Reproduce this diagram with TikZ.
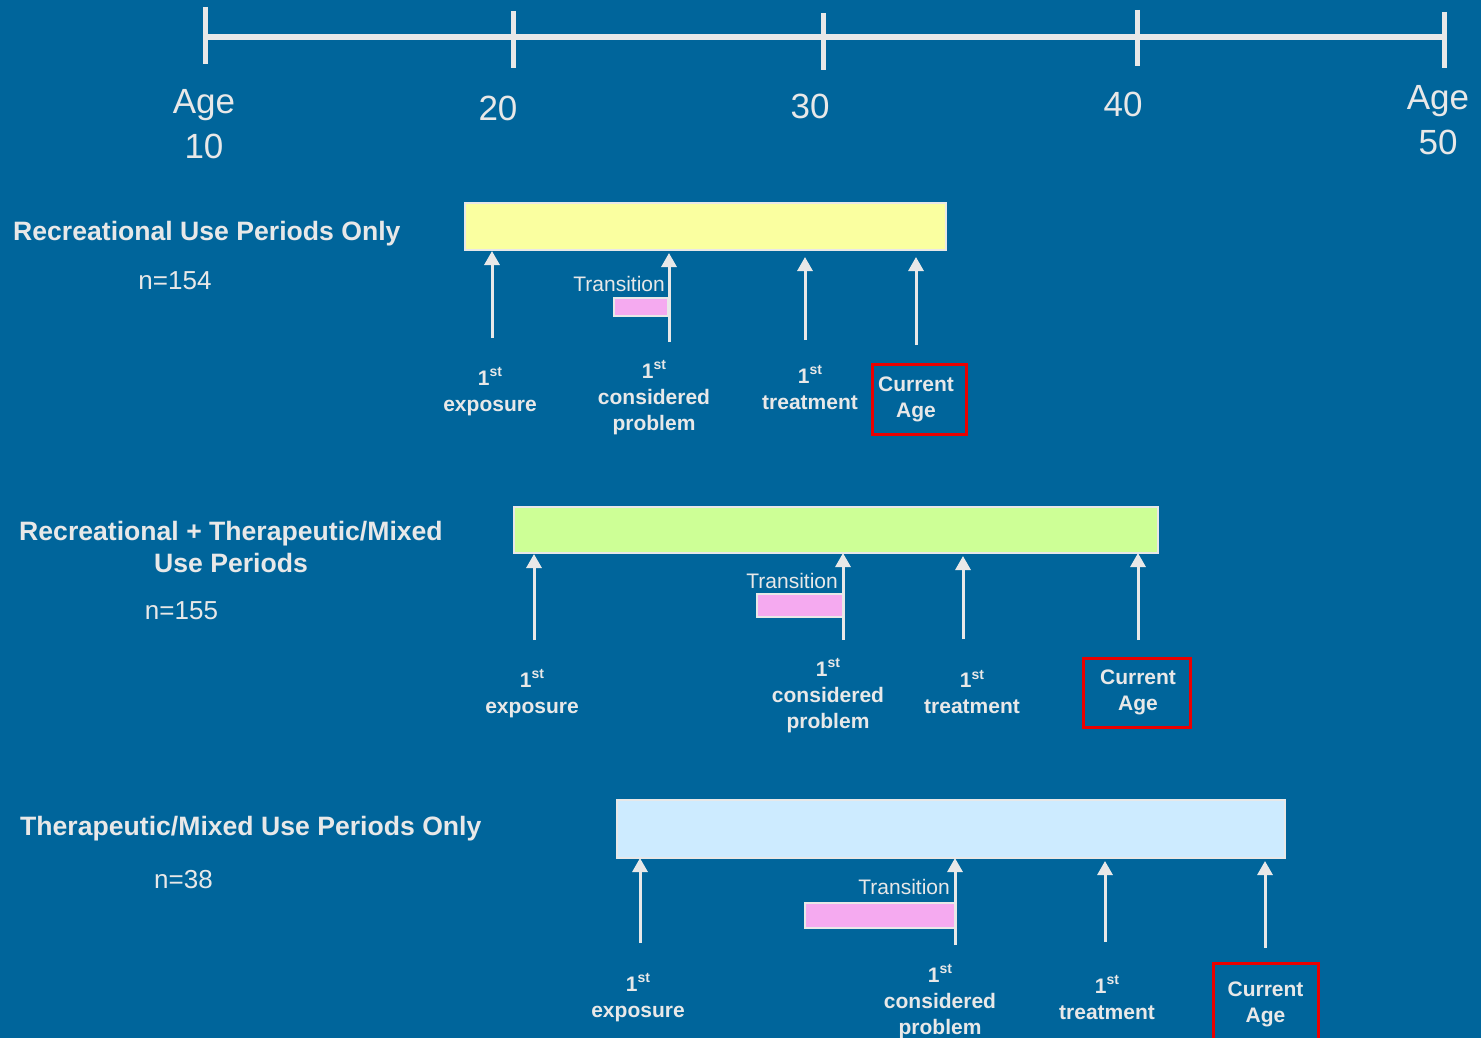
\documentclass[tikz,border=0pt]{standalone}
\usepackage{fontspec}
\setmainfont{Liberation Sans}
\usetikzlibrary{arrows.meta}
\definecolor{bgblue}{RGB}{0,101,155}
\definecolor{ink}{RGB}{232,232,232}
\definecolor{barY}{RGB}{250,255,160}
\definecolor{barG}{RGB}{205,255,150}
\definecolor{barB}{RGB}{205,235,255}
\definecolor{pinkT}{RGB}{245,170,240}
\definecolor{boxred}{RGB}{235,0,0}
% raised "st" for ordinal labels
\newcommand\stsup{\raisebox{0.42em}{\fontsize{14}{14}\selectfont st}}
\begin{document}
\begin{tikzpicture}[x=1pt,y=-1pt,
  axisline/.style={draw=ink, line width=6pt},
  tickmark/.style={draw=ink, line width=5pt},
  agelbl/.style={text=ink, font=\fontsize{35}{45}\selectfont, align=center, inner sep=0pt},
  grouptitle/.style={text=ink, font=\bfseries\fontsize{26.6}{32}\selectfont, align=center, inner sep=0pt},
  count/.style={text=ink, font=\fontsize{26}{30}\selectfont, inner sep=0pt},
  periodbar/.style={draw=ink, line width=1.5pt, inner sep=0pt},
  event/.style={text=ink, font=\bfseries\fontsize{21}{26}\selectfont, align=center, inner sep=0pt},
  nowbox/.style={draw=boxred, line width=3pt, text=ink, font=\bfseries\fontsize{21}{26}\selectfont, align=center, inner sep=0pt},
  marker/.style={draw=ink, line width=3pt, -{Triangle[width=15pt,length=14pt]}},
  translbl/.style={text=ink, font=\fontsize{21}{21}\selectfont, inner sep=0pt, anchor=east},
  transbox/.style={draw=ink, fill=pinkT, line width=1.5pt, inner sep=0pt}
]
\useasboundingbox (0,0) rectangle (1481,1038);
\clip (0,0) rectangle (1481,1038);
\fill[bgblue] (0,0) rectangle (1481,1038);

% age axis
\draw[axisline] (205,37) -- (1444,37);
\draw[tickmark] (205,7) -- (205,64);
\draw[tickmark] (513,11) -- (513,68);
\draw[tickmark] (823,13) -- (823,70);
\draw[tickmark] (1137,10) -- (1137,66);
\draw[tickmark] (1444,12) -- (1444,68);
\node[agelbl] (a10) at (204,124.5) {Age\\10};
\node[agelbl] (a20) at (498,108) {20};
\node[agelbl] (a30) at (810,106) {30};
\node[agelbl] (a40) at (1123,104) {40};
\node[agelbl] (a50) at (1438,120.5) {Age\\50};

% group 1
\node[grouptitle, anchor=west] (t1) at (13,234) {Recreational Use Periods Only};
\node[count] (n1) at (175,281) {n=154};
\node[periodbar, fill=barY, minimum width=481pt, minimum height=47pt] (bar1) at (705.5,226.5) {};
\node[transbox, minimum width=54pt, minimum height=18pt] (tb1) at (641,307) {};
\node[translbl] (tl1) at (665,284) {Transition};
\coordinate (p1a) at (492,338); \coordinate (q1a) at (492,251);
\coordinate (p1b) at (669,342); \coordinate (q1b) at (669,253);
\coordinate (p1c) at (805,340); \coordinate (q1c) at (805,257);
\coordinate (p1d) at (916,345); \coordinate (q1d) at (916,257);
\draw[marker] (p1a) -- (q1a);
\draw[marker] (p1b) -- (q1b);
\draw[marker] (p1c) -- (q1c);
\draw[marker] (p1d) -- (q1d);
\node[event] (e1a) at (490,391.5) {1\stsup\\exposure};
\node[event] (e1b) at (654,397.5) {1\stsup\\considered\\problem};
\node[event] (e1c) at (810,387.5) {1\stsup\\treatment};
\node[nowbox, minimum width=94pt, minimum height=70pt] (c1) at (919,399) {\hspace*{-6pt}Current\\\hspace*{-6pt}Age};

% group 2
\node[grouptitle] (t2) at (231,547) {Recreational + Therapeutic/Mixed\\Use Periods};
\node[count] (n2) at (181.5,611) {n=155};
\node[periodbar, fill=barG, minimum width=644pt, minimum height=46pt] (bar2) at (836,530) {};
\node[transbox, minimum width=87pt, minimum height=23pt] (tb2) at (800.5,605.5) {};
\node[translbl] (tl2) at (838,581) {Transition};
\coordinate (p2a) at (534,640); \coordinate (q2a) at (534,554);
\coordinate (p2b) at (843,640); \coordinate (q2b) at (843,553);
\coordinate (p2c) at (963,639); \coordinate (q2c) at (963,556);
\coordinate (p2d) at (1138,640); \coordinate (q2d) at (1138,553);
\draw[marker] (p2a) -- (q2a);
\draw[marker] (p2b) -- (q2b);
\draw[marker] (p2c) -- (q2c);
\draw[marker] (p2d) -- (q2d);
\node[event] (e2a) at (532,694) {1\stsup\\exposure};
\node[event] (e2b) at (828,696) {1\stsup\\considered\\problem};
\node[event] (e2c) at (972,692) {1\stsup\\treatment};
\node[nowbox, minimum width=107pt, minimum height=69pt] (c2) at (1136.5,692.5) {\hspace*{3pt}Current\\\hspace*{3pt}Age};

% group 3
\node[grouptitle, anchor=west] (t3) at (20,829) {Therapeutic/Mixed Use Periods Only};
\node[count] (n3) at (183.5,880) {n=38};
\node[periodbar, fill=barB, minimum width=668pt, minimum height=58pt] (bar3) at (951,829) {};
\node[transbox, minimum width=150pt, minimum height=25pt] (tb3) at (880,915.5) {};
\node[translbl] (tl3) at (950,887) {Transition};
\coordinate (p3a) at (640,943); \coordinate (q3a) at (640,858);
\coordinate (p3b) at (955,945); \coordinate (q3b) at (955,858);
\coordinate (p3c) at (1105,942); \coordinate (q3c) at (1105,861);
\coordinate (p3d) at (1265,948); \coordinate (q3d) at (1265,861);
\draw[marker] (p3a) -- (q3a);
\draw[marker] (p3b) -- (q3b);
\draw[marker] (p3c) -- (q3c);
\draw[marker] (p3d) -- (q3d);
\node[event] (e3a) at (638,997.5) {1\stsup\\exposure};
\node[event] (e3b) at (940,1002) {1\stsup\\considered\\problem};
\node[event] (e3c) at (1107,997.5) {1\stsup\\treatment};
\node[nowbox, minimum width=105pt, minimum height=82pt] (c3) at (1265.5,1004) {Current\\Age};
\end{tikzpicture}
\end{document}
